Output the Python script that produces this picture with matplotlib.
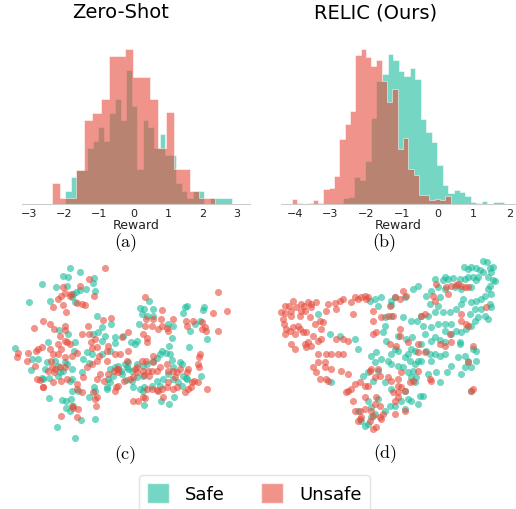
import numpy as np
import matplotlib
matplotlib.use("Agg")
import matplotlib.pyplot as plt
from matplotlib.patches import Patch

# ---------------- data ----------------
SAFE = "#1abc9c"
UNSAFE = "#e74c3c"
ALPHA = 0.6

# Panel (a) Zero-Shot reward histograms (relative heights, max = 100)
a_unsafe_range = (-2.36, 2.36)
a_unsafe = [13.3, 3.9, 3.9, 22.2, 54.2, 58.7, 68.0, 95.7, 95.7, 100.0,
            81.7, 81.7, 68.0, 36.1, 59.1, 22.6, 22.6, 8.6, 3.9, 3.9]
a_safe_range = (-1.975, 2.85)
a_safe = [8.2, 17.6, 22.2, 22.2, 36.1, 40.6, 49.7, 40.6, 58.7, 68.0,
          54.2, 86.5, 63.4, 22.6, 54.2, 49.5, 36.1, 45.2, 31.6, 31.6,
          13.3, 8.6, 3.9, 8.6, 8.6, 0.0, 3.9, 3.9, 3.9, 3.9]

# Panel (b) RELIC reward histograms
b_unsafe_range = (-4.084, 0.353)
b_unsafe = [3.4, 0.6, 0.0, 0.6, 2.4, 0.6, 9.5, 10.5, 18.3, 41.9,
            51.6, 60.0, 96.3, 100.0, 94.6, 89.2, 93.1, 79.6, 66.0, 74.2,
            35.5, 42.4, 22.6, 18.7, 5.8, 6.0, 2.6, 3.4, 2.6, 5.4]
b_safe_range = (-2.80, 1.84)
b_safe = [0.6, 3.9, 4.5, 17.6, 15.5, 27.5, 55.5, 79.6, 83.9, 96.8,
          93.1, 85.6, 82.8, 87.5, 80.6, 54.8, 46.7, 40.2, 25.2, 12.5,
          7.1, 9.2, 7.5, 5.4, 1.5, 0.6, 2.2, 0.0, 1.5, 1.5]

a_ticks = [-3, -2, -1, 0, 1, 2, 3]
b_ticks = [-4, -3, -2, -1, 0, 1, 2]

# Panel (c) embedding, Zero-Shot (x, y; y grows downward)
c_safe = np.array([
    (210,43),(240,53),(190,65),(205,68),(283,73),(125,90),(168,100),(200,95),(280,88),(258,105),
    (285,110),(228,115),(240,108),(220,120),(215,130),(150,142),(225,145),(88,145),
    (448,140),(420,162),(433,165),(460,165),(425,180),(440,185),(458,185),(555,160),(562,155),
    (548,178),(612,160),(610,167),(585,210),(600,200),(570,232),(620,255),(418,210),(503,210),
    (520,215),(517,252),(566,280),
    (290,185),(333,210),(305,220),(280,240),(295,235),(315,245),(345,250),(370,245),(345,268),
    (393,265),(412,262),(405,270),(330,290),(305,260),(178,228),(205,240),(145,265),(225,265),
    (222,290),(260,295),(275,300),(305,300),(250,315),(268,328),(45,282),(95,315),(115,315),
    (140,325),(135,345),(165,320),(175,335),(195,325),(200,330),(190,350),(215,345),(180,355),
    (245,355),(92,348),(130,375),(148,372),(175,365),(215,375),(210,380),(330,345),(345,340),
    (355,335),(375,330),(385,325),(385,345),(395,350),(365,360),(340,365),(325,375),(330,385),
    (320,398),(320,405),(378,378),(395,380),(410,368),(430,365),(420,405),(432,400),(428,410),
    (400,400),(455,395),(480,395),(470,380),(490,375),(505,360),(520,375),(520,340),(535,385),
    (545,395),(557,372),(550,365),(545,330),(560,375),(604,367),(540,325),(498,298),(510,300),
    (515,318),(507,275),(485,290),(480,300),(440,330),(460,320),(470,313),(430,335),(410,330),
    (380,338),(363,350),
    (147,432),(185,437),(197,440),(213,434),(218,455),(197,462),(210,470),(243,497),(285,495),
    (267,430),(282,400),(285,410),(432,452),(482,440),(507,449),(523,428),(215,410),(235,412),
    (172,520),(225,552),(125,373)])
c_unsafe = np.array([
    (315,43),(268,75),(240,97),(190,100),(195,118),(182,125),(175,135),(210,125),(245,150),
    (232,148),(255,152),(283,125),(188,153),(160,160),(198,173),(213,120),
    (435,130),(485,168),(437,195),(458,195),(483,195),(485,215),(455,215),(475,225),(520,195),
    (500,222),(505,230),(430,240),(440,252),(440,265),(435,215),(558,200),(562,215),(580,200),
    (605,205),(615,218),(617,232),(655,115),(680,170),(640,178),(655,230),(607,225),
    (130,200),(103,222),(150,210),(162,225),(195,215),(180,245),(195,228),(200,265),(245,240),
    (263,215),(268,240),(285,255),(273,265),(310,197),(332,193),(385,235),(325,275),(322,290),
    (290,280),(298,305),(275,282),(320,320),(360,300),(380,320),(385,290),(365,248),(195,260),
    (175,270),(150,285),(182,285),(210,270),(232,298),(215,305),(195,310),(175,300),(160,300),
    (125,278),(115,285),(108,290),(55,298),(50,308),(85,298),(82,320),(105,335),(152,320),
    (155,340),(145,350),(165,345),(180,340),(195,340),(163,355),(112,375),(120,378),(130,400),
    (183,382),(202,375),(232,390),(248,368),(262,340),(275,330),(290,320),(300,360),(312,380),
    (292,375),(345,300),(355,345),(355,355),(350,345),(342,350),(325,360),(347,400),(355,395),
    (345,410),(372,380),(390,375),(400,370),(410,355),(405,345),(410,340),(425,320),(438,320),
    (460,305),(460,325),(430,350),(432,362),(445,350),(448,365),(455,350),(470,350),(480,340),
    (500,330),(503,350),(520,350),(530,355),(525,370),(540,345),(565,345),(560,355),(575,385),
    (583,380),(595,383),(600,300),(597,310),(595,330),(598,340),(620,405),(555,415),(572,400),
    (563,405),(530,400),(518,405),(500,400),(505,385),(485,405),(470,408),(455,405),(440,405),
    (430,430),(435,432),(415,440),(400,440),(475,410),(488,430),(280,415),(290,430),(287,455),
    (245,415),(230,405),(215,455),(220,462),(235,465),(230,488),(182,487),(128,400),(160,385),
    (285,435)])

# Panel (d) embedding, RELIC
d_safe = np.array([
    (675,20),(688,25),(618,40),(630,45),(640,38),(655,42),(665,48),(695,42),(705,40),(700,55),
    (675,55),(690,68),(705,78),(712,80),(695,95),(690,105),(700,120),(660,70),(655,78),(645,70),
    (630,70),(620,75),(605,75),(585,72),(560,70),(570,75),(555,78),(530,75),(540,100),(520,110),
    (560,105),(590,100),(610,105),(640,100),(680,125),(670,135),(655,140),(640,145),(615,135),
    (610,150),(595,165),(575,175),(555,175),(530,175),(515,150),(540,155),(545,130),(505,125),
    (480,95),(465,105),(440,130),(410,130),(400,140),(400,152),(370,130),(350,135),(335,140),
    (360,155),(380,190),(400,185),(435,188),(460,200),(478,200),(490,185),(510,185),(495,215),
    (520,220),(540,210),(560,210),(580,210),(595,230),(610,235),(625,225),(640,215),(650,200),
    (660,190),(680,185),(690,195),(695,150),(700,160),(670,165),(650,165),(635,180),(605,265),
    (605,270),(560,265),(545,258),(520,260),(490,270),(470,290),(460,285),(450,300),(440,310),
    (420,290),(400,300),(410,285),(385,260),(355,295),(340,305),(300,285),(290,255),(245,245),
    (215,240),(220,385),(180,180),(380,215),(375,235),(420,245),(445,255),(462,250),(500,240),
    (530,250),(560,230),(580,240),(530,300),(515,300),(490,320),(470,330),(455,320),(465,350),
    (450,355),(435,340),(420,335),(400,330),(390,320),(370,315),(350,325),(360,350),(330,355),
    (315,365),(345,380),(380,385),(400,405),(440,410),(460,370),(470,385),(475,370),(510,360),
    (535,355),(545,385),(568,355),(580,335),(610,360),(620,340),(640,340),(655,320),(630,320),
    (645,285),(655,290),(620,305),(600,310),(480,320),(330,440),(340,460),(360,435),(380,470),
    (395,455),(410,455),(430,440),(450,435),(460,440),(485,425),(495,425),(480,450),(440,465),
    (350,480),(340,490),(330,510),(310,500),(300,470),(320,515),(545,305),(505,290),(520,320),
    (560,300),(640,410)])
d_unsafe = np.array([
    (80,155),(92,155),(70,175),(82,178),(75,195),(78,210),(85,225),(80,240),(95,230),(105,220),
    (120,215),(125,225),(110,240),(135,235),(145,235),(100,270),(112,285),(100,185),(105,140),
    (100,170),(115,160),(128,150),(138,155),(150,145),(160,150),(175,145),(160,160),(140,170),
    (125,185),(130,170),(155,190),(170,210),(185,200),(195,205),(190,225),(165,245),(150,265),
    (160,275),(145,280),(140,270),(180,260),(190,255),(210,150),(205,170),(230,148),(245,140),
    (255,135),(235,165),(205,300),(180,300),(165,340),(175,355),(185,375),(180,325),(200,325),
    (205,375),(210,380),(220,300),(240,300),(255,300),(235,255),(255,255),(270,260),(290,130),
    (300,135),(310,130),(320,125),(330,128),(325,135),(280,145),(285,180),(345,170),(370,190),
    (390,185),(405,185),(410,130),(435,110),(445,125),(425,135),(395,155),(345,200),(345,240),
    (355,235),(425,225),(425,245),(395,270),(415,275),(450,265),(480,270),(480,295),(500,295),
    (490,185),(500,180),(530,140),(535,90),(525,125),(570,120),(565,100),(580,95),(595,92),
    (600,90),(610,95),(620,100),(630,100),(685,158),(610,180),(625,210),(630,215),(610,200),
    (580,265),(575,240),(545,270),(560,275),(645,275),(630,325),(640,410),(645,405),(520,380),
    (515,375),(480,350),(465,380),(455,385),(430,355),(430,400),(420,395),(420,415),(420,430),
    (410,440),(440,410),(420,375),(400,380),(390,370),(365,365),(350,370),(340,345),(335,350),
    (360,345),(330,395),(320,395),(290,390),(305,385),(270,410),(265,415),(280,405),(285,440),
    (320,430),(355,430),(350,450),(320,465),(305,470),(290,470),(310,490),(340,470),(345,485),
    (365,490),(370,495),(375,480),(365,455),(405,415),(410,480),(440,470),(355,520),(345,525),
    (335,500),(305,495),(300,500),(250,350),(270,360),(200,340),(220,345)])

# ---------------- figure ----------------
W, H = 516, 510
fig = plt.figure(figsize=(W / 100, H / 100), dpi=100)


def px_axes(left, top, right, bottom):
    return fig.add_axes([left / W, 1 - bottom / H, (right - left) / W, (bottom - top) / H])


def hist_panel(ax, safe, srange, unsafe, urange, xlim, ticks):
    for vals, rng, col in ((safe, srange, SAFE), (unsafe, urange, UNSAFE)):
        edges = np.linspace(rng[0], rng[1], len(vals) + 1)
        ax.hist(edges[:-1], bins=edges, weights=vals, histtype="stepfilled",
                facecolor=col, edgecolor="white", linewidth=0.6, alpha=ALPHA)
    ax.set_xlim(*xlim)
    ax.set_ylim(0, 105.2)
    ax.set_yticks([])
    for s in ("top", "right", "left"):
        ax.spines[s].set_visible(False)
    ax.spines["bottom"].set_color("#cccccc")
    ax.spines["bottom"].set_linewidth(0.8)
    ax.set_xticks(ticks)
    ax.tick_params(axis="x", length=0, pad=3, labelsize=8, labelcolor="#222222")
    ax.set_xlabel("Reward", fontsize=9, labelpad=0, color="#222222")
    ax.patch.set_alpha(0)


ax_a = px_axes(21.7, 42, 250, 205)
hist_panel(ax_a, a_safe, a_safe_range, a_unsafe, a_unsafe_range, (-3.225, 3.373), a_ticks)
ax_b = px_axes(281, 42, 515, 205)
hist_panel(ax_b, b_safe, b_safe_range, b_unsafe, b_unsafe_range, (-4.38, 2.15), b_ticks)


def scatter_panel(ax, safe, unsafe):
    ax.scatter(safe[:, 0], safe[:, 1], s=26, c=SAFE, alpha=ALPHA, linewidths=0)
    ax.scatter(unsafe[:, 0], unsafe[:, 1], s=26, c=UNSAFE, alpha=ALPHA, linewidths=0)
    ax.set_xlim(0, 774)
    ax.set_ylim(645, 0)
    ax.axis("off")


ax_c = px_axes(0, 255, 258, 470)
scatter_panel(ax_c, c_safe, c_unsafe)
ax_d = px_axes(258, 255, 516, 470)
scatter_panel(ax_d, d_safe, d_unsafe)

# titles
fig.text(121 / W, 1 - 13 / H, "Zero-Shot", ha="center", va="center", fontsize=14)
fig.text(376 / W, 1 - 13 / H, "RELIC (Ours)", ha="center", va="center", fontsize=14)

# panel labels
for lab, x, y in (("(a)", 125.5, 243), ("(b)", 384, 243), ("(c)", 125, 455), ("(d)", 385, 454)):
    fig.text(x / W, 1 - y / H, lab, ha="center", va="center", fontsize=13, family="cmr10")

# legend
handles = [Patch(facecolor=SAFE, edgecolor="white", alpha=ALPHA, label="Safe"),
           Patch(facecolor=UNSAFE, edgecolor="white", alpha=ALPHA, label="Unsafe")]
leg = fig.legend(handles=handles, loc="upper center", bbox_to_anchor=(254.5 / W, 1 - 476 / H),
                 ncol=2, fontsize=13, frameon=True, fancybox=True, handlelength=1.2,
                 handleheight=1.3, handletextpad=0.9, columnspacing=2.0, borderpad=0.45,
                 borderaxespad=0)
leg.get_frame().set_edgecolor("#dddddd")
leg.get_frame().set_linewidth(1.0)

fig.savefig("out.png", dpi=100)
